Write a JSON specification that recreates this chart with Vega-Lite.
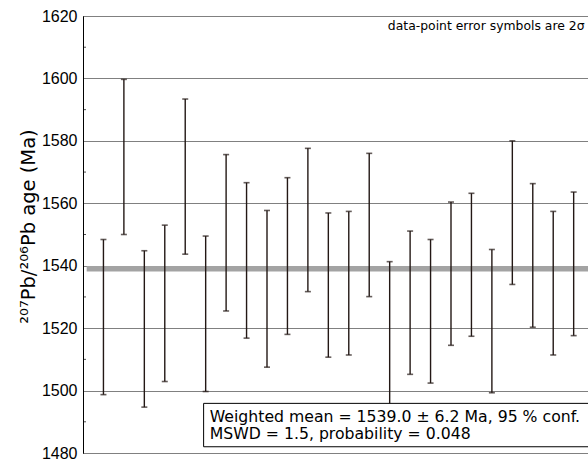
{
  "$schema": "https://vega.github.io/schema/vega-lite/v6.json",
  "width": 506,
  "height": 437,
  "autosize": {"type": "none"},
  "padding": {"left": 83, "top": 16, "right": 0, "bottom": 7},
  "background": "white",
  "config": {"view": {"stroke": "black", "strokeWidth": 1}, "font": "Liberation Sans"},
  "datasets": {
    "bars": [
      {"n": 1, "lo": 1498.7, "hi": 1548.4},
      {"n": 2, "lo": 1550.0, "hi": 1599.7},
      {"n": 3, "lo": 1494.7, "hi": 1544.8},
      {"n": 4, "lo": 1502.9, "hi": 1553.0},
      {"n": 5, "lo": 1543.7, "hi": 1593.4},
      {"n": 6, "lo": 1499.7, "hi": 1549.5},
      {"n": 7, "lo": 1525.5, "hi": 1575.6},
      {"n": 8, "lo": 1516.8, "hi": 1566.6},
      {"n": 9, "lo": 1507.5, "hi": 1557.7},
      {"n": 10, "lo": 1518.0, "hi": 1568.2},
      {"n": 11, "lo": 1531.7, "hi": 1577.6},
      {"n": 12, "lo": 1510.7, "hi": 1556.9},
      {"n": 13, "lo": 1511.4, "hi": 1557.4},
      {"n": 14, "lo": 1530.1, "hi": 1576.0},
      {"n": 15, "lo": 1491.0, "hi": 1541.3},
      {"n": 16, "lo": 1505.2, "hi": 1551.1},
      {"n": 17, "lo": 1502.4, "hi": 1548.4},
      {"n": 18, "lo": 1514.5, "hi": 1560.4},
      {"n": 19, "lo": 1517.4, "hi": 1563.2},
      {"n": 20, "lo": 1499.3, "hi": 1545.2},
      {"n": 21, "lo": 1534.0, "hi": 1580.0},
      {"n": 22, "lo": 1520.3, "hi": 1566.3},
      {"n": 23, "lo": 1511.4, "hi": 1557.4},
      {"n": 24, "lo": 1517.6, "hi": 1563.6}
    ],
    "minor": [{"v": 1490}, {"v": 1510}, {"v": 1530}, {"v": 1550}, {"v": 1570}, {"v": 1590}, {"v": 1610}]
  },
  "layer": [
    {
      "data": {"name": "minor"},
      "mark": {"type": "tick", "orient": "horizontal", "size": 6, "thickness": 1, "color": "black", "clip": true},
      "encoding": {
        "x": {"datum": 0, "type": "quantitative", "scale": {"domain": [0, 24.75], "nice": false, "zero": false}, "axis": null},
        "y": {
          "field": "v", "type": "quantitative",
          "scale": {"domain": [1480, 1620], "nice": false, "zero": false},
          "axis": {
            "values": [1480, 1500, 1520, 1540, 1560, 1580, 1600, 1620],
            "format": "d",
            "grid": true, "gridColor": "#808080", "gridWidth": 1,
            "ticks": false, "domain": true, "domainColor": "black", "domainWidth": 1,
            "labelFont": "Liberation Sans, Arial, Helvetica, sans-serif", "labelFontSize": 16, "labelColor": "black", "labelPadding": 6,
            "title": "²⁰⁷Pb/²⁰⁶Pb age (Ma)",
            "titleFont": "DejaVu Sans", "titleFontSize": 19.5, "titleFontWeight": "normal", "titleColor": "black",
            "titleAngle": 270, "titleX": -49, "titleY": 210, "titleAlign": "center", "titleBaseline": "alphabetic"
          }
        }
      }
    },
    {
      "data": {"values": [{"mean": 1539.0}]},
      "mark": {"type": "rule", "color": "#a3a3a3", "strokeWidth": 5.5, "clip": true},
      "encoding": {
        "x": {"datum": 0.18, "type": "quantitative"},
        "x2": {"datum": 30},
        "y": {"field": "mean", "type": "quantitative", "title": "²⁰⁷Pb/²⁰⁶Pb age (Ma)"}
      }
    },
    {
      "data": {"name": "bars"},
      "mark": {"type": "rule", "color": "#231815", "strokeWidth": 1.4},
      "encoding": {
        "x": {"field": "n", "type": "quantitative"},
        "y": {"field": "lo", "type": "quantitative", "title": "²⁰⁷Pb/²⁰⁶Pb age (Ma)"},
        "y2": {"field": "hi"}
      }
    },
    {
      "data": {"name": "bars"},
      "mark": {"type": "tick", "orient": "horizontal", "size": 6, "thickness": 1.6, "color": "#231815"},
      "encoding": {
        "x": {"field": "n", "type": "quantitative"},
        "y": {"field": "lo", "type": "quantitative", "title": "²⁰⁷Pb/²⁰⁶Pb age (Ma)"}
      }
    },
    {
      "data": {"name": "bars"},
      "mark": {"type": "tick", "orient": "horizontal", "size": 6, "thickness": 1.6, "color": "#231815"},
      "encoding": {
        "x": {"field": "n", "type": "quantitative"},
        "y": {"field": "hi", "type": "quantitative", "title": "²⁰⁷Pb/²⁰⁶Pb age (Ma)"}
      }
    },
    {
      "data": {"values": [{"box": "stats"}]},
      "mark": {"type": "rect", "fill": "white", "stroke": "black", "strokeWidth": 1, "clip": true},
      "encoding": {
        "x": {"datum": 5.9, "type": "quantitative"},
        "x2": {"datum": 30},
        "y": {"datum": 1495.9, "type": "quantitative"},
        "y2": {"datum": 1482.0}
      }
    },
    {
      "data": {"values": [{"label": "Weighted mean = 1539.0 ± 6.2 Ma, 95 % conf."}]},
      "mark": {"type": "text", "font": "DejaVu Sans", "fontSize": 15.7, "color": "black", "align": "left", "baseline": "alphabetic"},
      "encoding": {
        "x": {"datum": 6.2, "type": "quantitative"},
        "y": {"datum": 1490.0, "type": "quantitative"},
        "text": {"field": "label"}
      }
    },
    {
      "data": {"values": [{"label": "MSWD = 1.5, probability = 0.048"}]},
      "mark": {"type": "text", "font": "DejaVu Sans", "fontSize": 15.7, "color": "black", "align": "left", "baseline": "alphabetic"},
      "encoding": {
        "x": {"datum": 6.2, "type": "quantitative"},
        "y": {"datum": 1484.4, "type": "quantitative"},
        "text": {"field": "label"}
      }
    },
    {
      "data": {"values": [{"label": "data-point error symbols are 2σ"}]},
      "mark": {"type": "text", "font": "DejaVu Sans", "fontSize": 12.4, "color": "black", "align": "left", "baseline": "alphabetic"},
      "encoding": {
        "x": {"datum": 14.91, "type": "quantitative"},
        "y": {"datum": 1615.5, "type": "quantitative"},
        "text": {"field": "label"}
      }
    }
  ]
}
